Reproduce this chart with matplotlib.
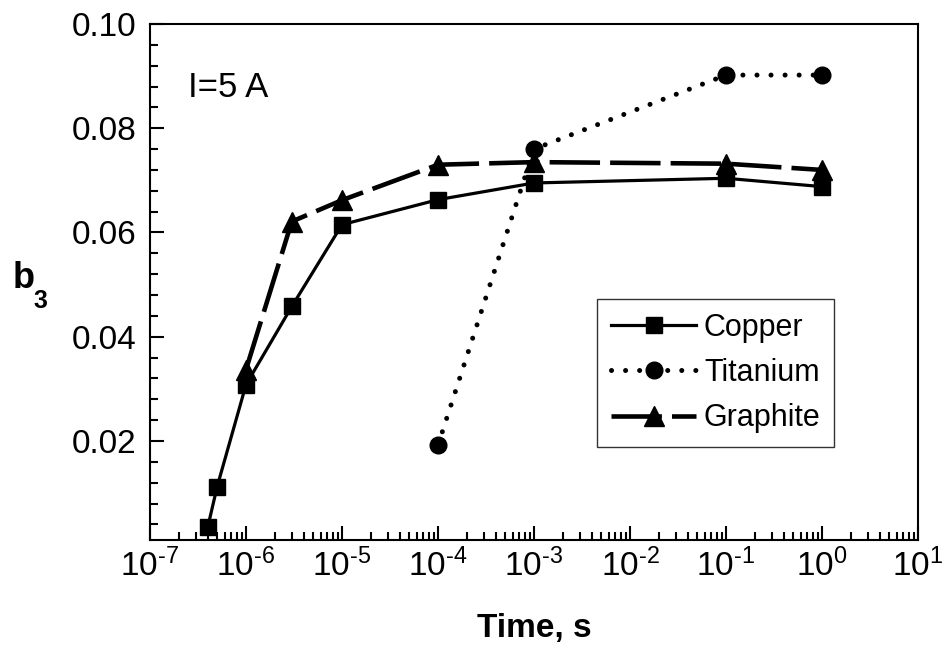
import matplotlib
matplotlib.use('Agg')
import matplotlib.pyplot as plt
from matplotlib.ticker import LogLocator, MultipleLocator

plt.rcParams['font.family'] = ['Liberation Sans', 'DejaVu Sans']
plt.rcParams['mathtext.fontset'] = 'custom'
plt.rcParams['mathtext.rm'] = 'Liberation Sans'
plt.rcParams['mathtext.bf'] = 'Liberation Sans:bold'
plt.rcParams['mathtext.it'] = 'Liberation Sans:italic'
plt.rcParams['mathtext.default'] = 'regular'

# data
cu_t = [4e-7, 5e-7, 1e-6, 3e-6, 1e-5, 1e-4, 1e-3, 1e-1, 1e0]
cu_b = [0.0035, 0.0112, 0.0308, 0.0458, 0.0615, 0.0663, 0.0695, 0.0704, 0.0688]
ti_t = [1e-4, 1e-3, 1e-1, 1e0]
ti_b = [0.0192, 0.0760, 0.0902, 0.0902]
gr_t = [1e-6, 3e-6, 1e-5, 1e-4, 1e-3, 1e-1, 1e0]
gr_b = [0.0337, 0.0621, 0.0662, 0.0730, 0.0735, 0.0732, 0.0720]

xticks = [1e-7, 1e-6, 1e-5, 1e-4, 1e-3, 1e-2, 1e-1, 1e0, 1e1]
xlabels = [r'$10^{\text{-7}}$', r'$10^{\text{-6}}$', r'$10^{\text{-5}}$', r'$10^{\text{-4}}$',
           r'$10^{\text{-3}}$', r'$10^{\text{-2}}$', r'$10^{\text{-1}}$', r'$10^{0}$', r'$10^{1}$']
yticks = [0.02, 0.04, 0.06, 0.08, 0.10]
ylabels = ['0.02', '0.04', '0.06', '0.08', '0.10']

fig = plt.figure(figsize=(9.46, 6.51), dpi=100)
ax = fig.add_axes([150 / 946, 1 - 540 / 651, 768 / 946, 516 / 651])

ax.plot(cu_t, cu_b, color='black', lw=2.3, marker='s', ms=11, label='Copper')
ax.plot(ti_t, ti_b, color='black', lw=3.6, linestyle=(0, (0.01, 2.8)),
        dash_capstyle='round', marker='o', ms=12, label='Titanium')
ax.plot(gr_t, gr_b, color='black', lw=3.3, linestyle=(0, (11, 2.2)),
        marker='^', ms=14, label='Graphite')

ax.set_xscale('log')
ax.set_xlim(1e-7, 1e1)
ax.set_ylim(0.001, 0.10)
ax.set_xticks(xticks, xlabels)
ax.xaxis.set_minor_locator(LogLocator(base=10, subs=range(2, 10), numticks=20))
ax.set_yticks(yticks, ylabels)
ax.yaxis.set_minor_locator(MultipleLocator(0.004))

for s in ax.spines.values():
    s.set_linewidth(1.5)
ax.tick_params(which='both', direction='in', top=False, right=False, width=1.5)
ax.tick_params(which='major', length=10, labelsize=24)
ax.tick_params(axis='y', which='major', pad=9.5)
ax.tick_params(axis='x', which='major', pad=6)
ax.tick_params(which='minor', length=6)

fig.text(534 / 946, 1 - 637 / 651, 'Time, s', fontsize=24, fontweight='bold',
         ha='center', va='baseline')
fig.text(13 / 946, 1 - 288 / 651, 'b', fontsize=26, fontweight='bold', va='baseline')
fig.text(33 / 946, 1 - 308 / 651, '3', fontsize=18, fontweight='bold', va='baseline')

ax.text(0.0495, 0.8585, 'I=5 A', transform=ax.transAxes, fontsize=25, va='baseline')

leg = ax.legend(loc='upper left', bbox_to_anchor=(447 / 768, (540 - 299) / 516),
                borderaxespad=0, fontsize=22, frameon=True, fancybox=False,
                handlelength=2.8, borderpad=0.45, labelspacing=0.5, handletextpad=0.25)
leg.get_frame().set_edgecolor('black')
leg.get_frame().set_linewidth(1.0)

fig.savefig('out.png', dpi=100)
